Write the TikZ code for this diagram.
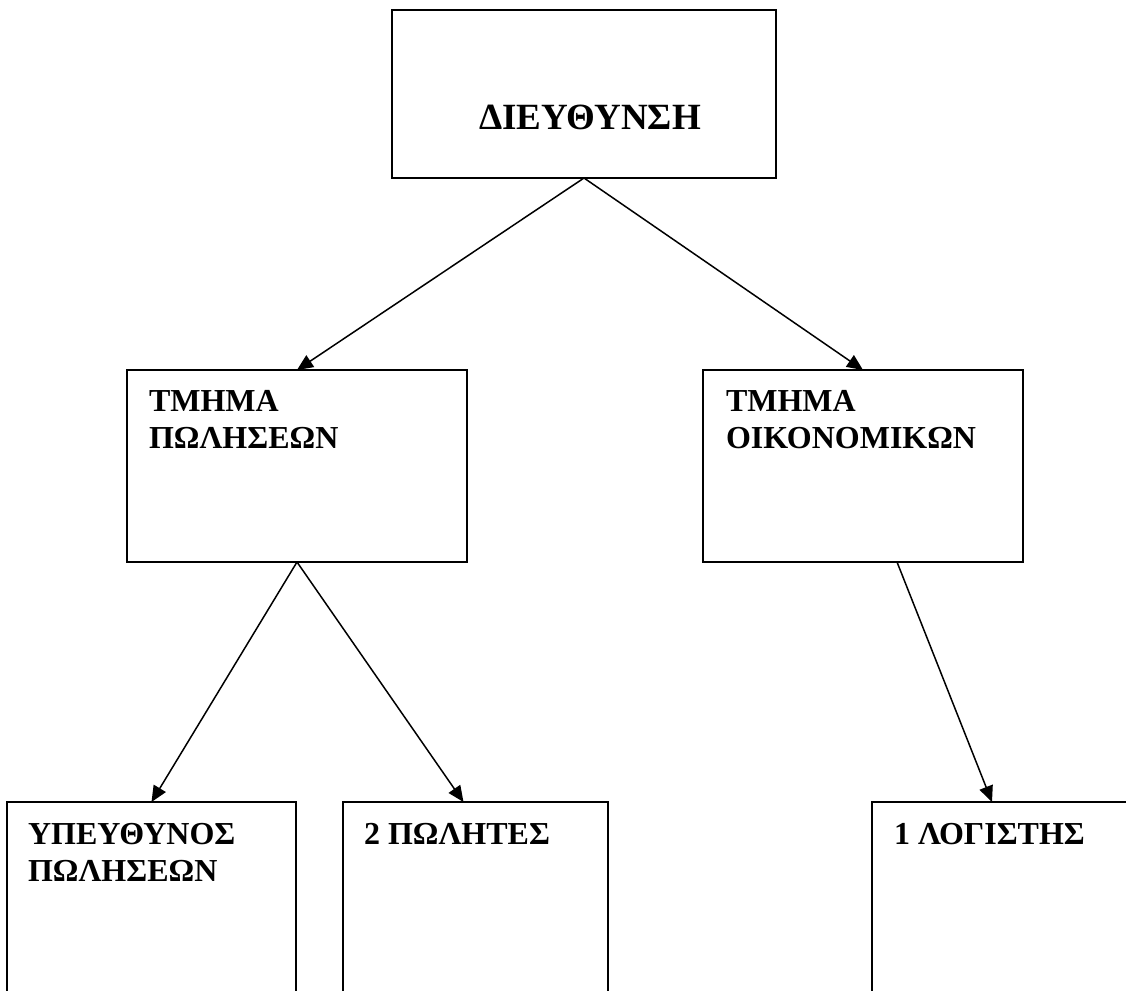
\documentclass[tikz,border=0pt]{standalone}
\usepackage{fontspec}
\setmainfont{Liberation Serif}
\usetikzlibrary{arrows.meta}
\tikzset{
  box/.style={draw=black, line width=2pt, fill=none, inner sep=0pt, outer sep=0pt, anchor=north west},
  lbl/.style={font=\fontsize{32}{37}\selectfont\bfseries, inner sep=0pt, outer sep=0pt, align=left, anchor=north west},
  conn/.style={line width=1.5pt, -{Triangle[length=16pt,width=14pt]}}
}
\begin{document}
\begin{tikzpicture}[x=1pt,y=-1pt]
\useasboundingbox (0,0) rectangle (1126,990);
\clip (0,0) rectangle (1126,990);
% boxes
\node[box, minimum width=384pt, minimum height=168pt] (top) at (392,10) {};
\node[box, minimum width=340pt, minimum height=192pt] (midL) at (127,370) {};
\node[box, minimum width=320pt, minimum height=192pt] (midR) at (703,370) {};
\node[box, minimum width=289pt, minimum height=220pt] (b1) at (7,802) {};
\node[box, minimum width=265pt, minimum height=220pt] (b2) at (343,802) {};
\node[box, minimum width=280pt, minimum height=220pt] (b3) at (872,802) {};
% texts
\node[lbl, font=\fontsize{37}{41}\selectfont\bfseries, anchor=base] (tTop) at ([shift={(6pt,-35pt)}]top.center) {ΔΙΕΥΘΥΝΣΗ};
\node[lbl] (tMidL) at ([shift={(22pt,-20pt)}]midL.north west) {ΤΜΗΜΑ\\ΠΩΛΗΣΕΩΝ};
\node[lbl] (tMidR) at ([shift={(23pt,-20pt)}]midR.north west) {ΤΜΗΜΑ\\ΟΙΚΟΝΟΜΙΚΩΝ};
\node[lbl] (tB1) at ([shift={(21pt,-21pt)}]b1.north west) {ΥΠΕΥΘΥΝΟΣ\\ΠΩΛΗΣΕΩΝ};
\node[lbl] (tB2) at ([shift={(21pt,-21pt)}]b2.north west) {2 ΠΩΛΗΤΕΣ};
\node[lbl] (tB3) at ([shift={(22pt,-21pt)}]b3.north west) {1 ΛΟΓΙΣΤΗΣ};
% connectors
\draw[conn] (top.south) -- (midL.north);
\draw[conn] (top.south) -- (midR.north);
\draw[conn] (midL.south) -- (b1.north);
\draw[conn] (midL.south) -- ([xshift=-12pt]b2.north);
\draw[conn] ([xshift=34pt]midR.south) -- ([xshift=120pt]b3.north west);
\end{tikzpicture}
\end{document}
